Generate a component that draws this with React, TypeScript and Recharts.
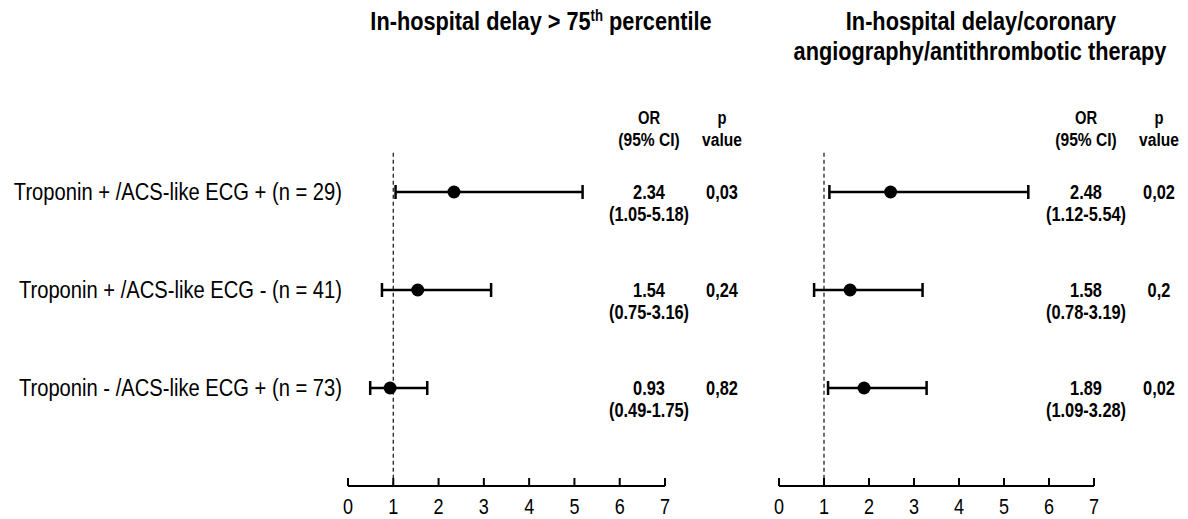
import { ScatterChart, Scatter, XAxis, YAxis, ErrorBar, ReferenceLine } from "recharts";

// rows, top to bottom
const ROW_LABELS = [
  "Troponin + /ACS-like ECG + (n = 29)",
  "Troponin + /ACS-like ECG - (n = 41)",
  "Troponin - /ACS-like ECG + (n = 73)",
];
const ROW_POS = [1, 2, 3];
const X_TICKS = [0, 1, 2, 3, 4, 5, 6, 7];
const REF_OR = 1;

// In-hospital delay > 75th percentile
const DELAY_OR = [2.34, 1.54, 0.93];
const DELAY_LO = [1.05, 0.75, 0.49];
const DELAY_HI = [5.18, 3.16, 1.75];
const DELAY_P = ["0,03", "0,24", "0,82"];

// In-hospital delay / coronary angiography / antithrombotic therapy
const COMP_OR = [2.48, 1.58, 1.89];
const COMP_LO = [1.12, 0.78, 1.09];
const COMP_HI = [5.54, 3.19, 3.28];
const COMP_P = ["0,02", "0,2", "0,02"];

const SANS = "'Liberation Sans', Arial, sans-serif";
const SQUEEZE = 0.82; // no narrow font installed, so squeeze Liberation Sans like Arial Narrow

const buildRows = (or: number[], lo: number[], hi: number[]) =>
  or.map((v, i) => ({ row: ROW_POS[i], or: v, err: [v - lo[i], hi[i] - v] }));

// narrow text helper
const NText = ({ x, y, size, bold, anchor = "middle", children }: any) => (
  <g transform={`translate(${x},${y}) scale(${SQUEEZE},1)`}>
    <text x={0} y={0} textAnchor={anchor} fill="#000" style={{ fontFamily: SANS, fontSize: size, fontWeight: bold ? 700 : 400 }}>
      {children}
    </text>
  </g>
);

const AxisTick = (props: any) => {
  const { x, y, payload } = props;
  return (
    <g>
      <line x1={x} x2={x} y1={y} y2={y - 8} stroke="#000" strokeWidth={2} />
      <NText x={x} y={y + 28} size={22}>{payload.value}</NText>
    </g>
  );
};

const RowTick = (props: any) => {
  const { x, y, payload } = props;
  return (
    <NText x={x} y={y + 8} size={24.6} anchor="end">
      {ROW_LABELS[payload.value - 1]}
    </NText>
  );
};

const Dot = (props: any) => <circle cx={props.cx} cy={props.cy} r={6.5} fill="#000" />;

function ForestPanel({ data, showLabels, left, width, marginRight }: any) {
  return (
    <div style={{ position: "absolute", left, top: 0 }}>
      <ScatterChart width={width} height={519} margin={{ top: 94, right: marginRight, bottom: 3, left: showLabels ? 0 : 49 }}>
        <XAxis
          type="number"
          dataKey="or"
          domain={[0, 7]}
          ticks={X_TICKS}
          interval={0}
          height={30}
          axisLine={{ stroke: "#000", strokeWidth: 2 }}
          tickLine={false}
          tickSize={0}
          tickMargin={0}
          tick={AxisTick}
        />
        <YAxis
          type="number"
          dataKey="row"
          domain={[0, 4]}
          reversed
          ticks={ROW_POS}
          interval={0}
          hide={!showLabels}
          width={348}
          axisLine={false}
          tickLine={false}
          tickSize={0}
          tickMargin={6}
          tick={RowTick}
        />
        <ReferenceLine
          segment={[{ x: REF_OR, y: 0.6 }, { x: REF_OR, y: 4 }]}
          stroke="#222"
          strokeDasharray="4 3"
          strokeWidth={1.3}
        />
        <Scatter data={data} isAnimationActive={false} fill="#000" shape={Dot}>
          <ErrorBar dataKey="err" direction="x" width={7} stroke="#000" strokeWidth={2.5} isAnimationActive={false} />
        </Scatter>
      </ScatterChart>
    </div>
  );
}

function OrColumn({ orX, pX, or, lo, hi, p }: any) {
  return (
    <g>
      <NText x={orX} y={124} size={18} bold>OR</NText>
      <NText x={orX} y={146} size={19} bold>(95% CI)</NText>
      <NText x={pX} y={124} size={18} bold>p</NText>
      <NText x={pX} y={146} size={19} bold>value</NText>
      {or.map((v: number, i: number) => {
        const rowY = 192 + 98 * i;
        return (
          <g key={i}>
            <NText x={orX} y={rowY + 7} size={20} bold>{v.toFixed(2)}</NText>
            <NText x={orX} y={rowY + 29} size={20} bold>({lo[i].toFixed(2)}-{hi[i].toFixed(2)})</NText>
            <NText x={pX} y={rowY + 7} size={20} bold>{p[i]}</NText>
          </g>
        );
      })}
    </g>
  );
}

export default function App() {
  return (
    <div style={{ position: "absolute", left: 0, top: 0, width: 1188, height: 519, background: "#fff", overflow: "hidden" }}>
      <ForestPanel data={buildRows(DELAY_OR, DELAY_LO, DELAY_HI)} showLabels left={0} width={700} marginRight={35} />
      <ForestPanel data={buildRows(COMP_OR, COMP_LO, COMP_HI)} showLabels={false} left={730} width={400} marginRight={36} />
      <svg width={1188} height={519} style={{ position: "absolute", left: 0, top: 0, pointerEvents: "none" }}>
        <NText x={541} y={30} size={26.5} bold>
          In-hospital delay &gt; 75<tspan dy={-9} fontSize={16}>th</tspan>
          <tspan dy={9}> percentile</tspan>
        </NText>
        <NText x={981} y={30} size={26.5} bold>In-hospital delay/coronary</NText>
        <NText x={980} y={60} size={26.5} bold>angiography/antithrombotic therapy</NText>
        <OrColumn orX={649} pX={722} or={DELAY_OR} lo={DELAY_LO} hi={DELAY_HI} p={DELAY_P} />
        <OrColumn orX={1086} pX={1159} or={COMP_OR} lo={COMP_LO} hi={COMP_HI} p={COMP_P} />
      </svg>
    </div>
  );
}
